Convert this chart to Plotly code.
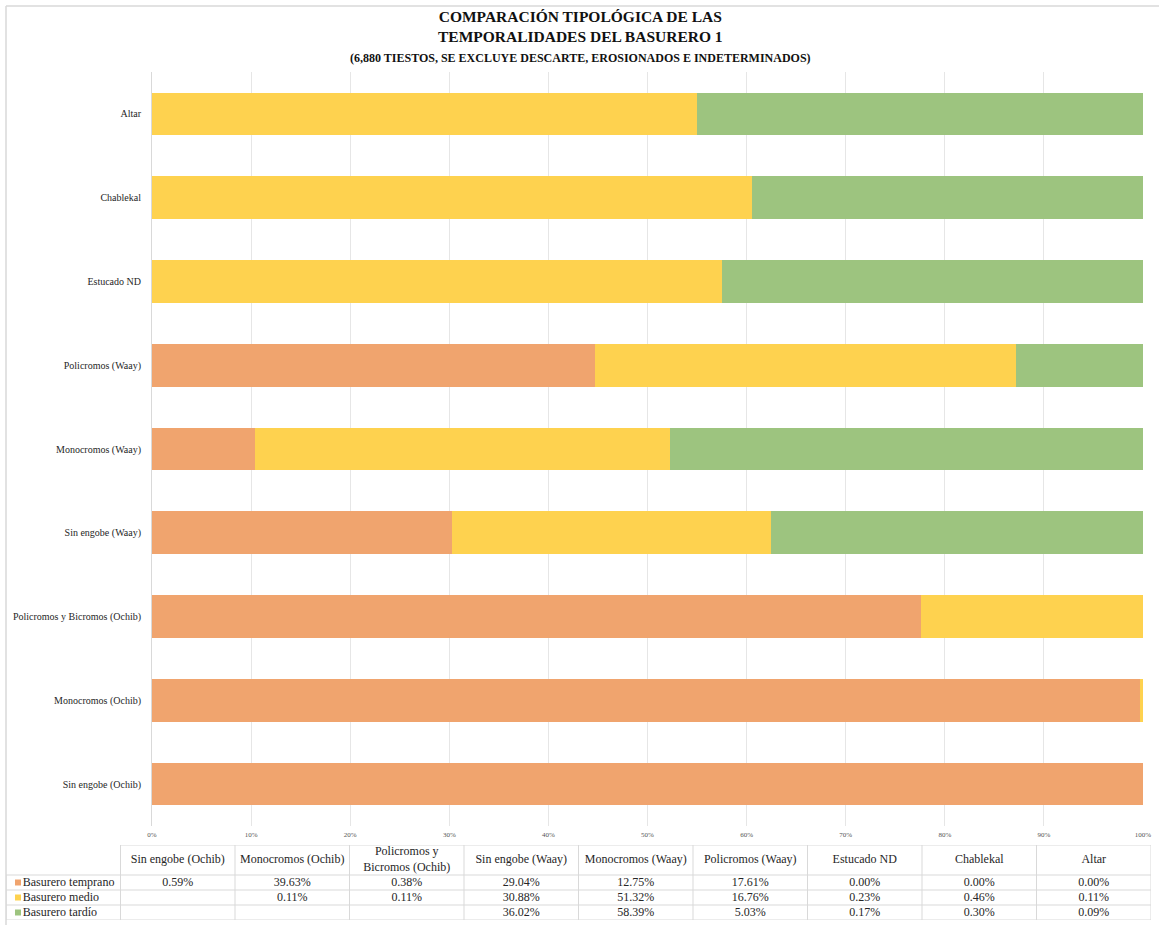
import plotly.graph_objects as go

categories = [
    "Sin engobe (Ochib)", "Monocromos (Ochib)", "Policromos y Bicromos (Ochib)",
    "Sin engobe (Waay)", "Monocromos (Waay)", "Policromos (Waay)",
    "Estucado ND", "Chablekal", "Altar",
]
header_labels = [
    "Sin engobe (Ochib)", "Monocromos (Ochib)", "Policromos y<br>Bicromos (Ochib)",
    "Sin engobe (Waay)", "Monocromos (Waay)", "Policromos (Waay)",
    "Estucado ND", "Chablekal", "Altar",
]
temprano = [0.59, 39.63, 0.38, 29.04, 12.75, 17.61, 0.00, 0.00, 0.00]
medio = [None, 0.11, 0.11, 30.88, 51.32, 16.76, 0.23, 0.46, 0.11]
tardio = [None, None, None, 36.02, 58.39, 5.03, 0.17, 0.30, 0.09]
series_names = ["Basurero temprano", "Basurero medio", "Basurero tardío"]
colors = ["#F0A46E", "#FED24F", "#9DC47F"]
x_ticks = [0, 10, 20, 30, 40, 50, 60, 70, 80, 90, 100]

W, H = 1159, 925
FONT = "Liberation Serif, Times New Roman, serif"
TXT = "#262626"
GRID = "#D9D9D9"


def px_x(p):
    return p / W


def px_y(p):
    return 1 - p / H


series = [temprano, medio, tardio]
fig = go.Figure()

# ---- stacked 100% bars ----
for name, vals, col in zip(series_names, series, colors):
    fig.add_trace(go.Bar(
        y=categories, x=[v if v is not None else 0 for v in vals],
        orientation="h", name=name, marker=dict(color=col, line=dict(width=0)),
        xaxis="x", yaxis="y", showlegend=False, hoverinfo="skip",
    ))

# ---- data table (drawn on its own axes) ----
n_cols = len(categories)
n_rows = len(series)
header_h = 2  # header is two row units tall
col_x = list(range(1, n_cols + 1))
row_y = [n_rows - 0.5 - i for i in range(n_rows)]
header_y = n_rows + header_h / 2
col_px = (1151 - 6) / (n_cols + 1)


def fmt(v):
    return "" if v is None else f"{v:.2f}%"


fig.add_trace(go.Scatter(
    x=col_x, y=[header_y] * n_cols, text=header_labels, mode="text",
    textposition="middle center", textfont=dict(family=FONT, size=12, color=TXT),
    xaxis="x2", yaxis="y2", showlegend=False, hoverinfo="skip", cliponaxis=False,
))
for i, (name, vals, col) in enumerate(zip(series_names, series, colors)):
    fig.add_trace(go.Scatter(
        x=col_x, y=[row_y[i]] * n_cols, text=[fmt(v) for v in vals], mode="text",
        textposition="middle center", textfont=dict(family=FONT, size=12, color=TXT),
        xaxis="x2", yaxis="y2", showlegend=False, hoverinfo="skip", cliponaxis=False,
    ))
    fig.add_trace(go.Scatter(
        x=[-0.5 + 12 / col_px], y=[row_y[i]], text=[name], mode="markers+text",
        marker=dict(symbol="square", size=6, color=col, line=dict(width=0)),
        textposition="middle right", textfont=dict(family=FONT, size=12, color=TXT),
        xaxis="x2", yaxis="y2", showlegend=False, hoverinfo="skip", cliponaxis=False,
    ))

shapes = []
top = n_rows + header_h
for r in range(n_rows + 1):
    shapes.append(dict(type="line", xref="x2", yref="y2", x0=-0.5, x1=n_cols + 0.5,
                       y0=r, y1=r, line=dict(color=GRID, width=1)))
shapes.append(dict(type="line", xref="x2", yref="y2", x0=0.5, x1=n_cols + 0.5,
                   y0=top, y1=top, line=dict(color=GRID, width=1)))
for c in range(n_cols + 1):
    shapes.append(dict(type="line", xref="x2", yref="y2", x0=c + 0.5, x1=c + 0.5,
                       y0=0, y1=top, line=dict(color=GRID, width=1)))
shapes.append(dict(type="line", xref="x2", yref="y2", x0=-0.5, x1=-0.5,
                   y0=0, y1=n_rows, line=dict(color=GRID, width=1)))

# chart-area border (top and left edges visible in the reference)
shapes.append(dict(type="line", xref="paper", yref="paper", x0=px_x(6), x1=1,
                   y0=px_y(6), y1=px_y(6), line=dict(color=GRID, width=1.5)))
shapes.append(dict(type="line", xref="paper", yref="paper", x0=px_x(6), x1=px_x(6),
                   y0=px_y(6), y1=0, line=dict(color=GRID, width=1.5)))

fig.update_layout(
    template="none",
    width=W, height=H, autosize=False,
    margin=dict(l=0, r=0, t=0, b=0, pad=0, autoexpand=False),
    paper_bgcolor="white", plot_bgcolor="white",
    barmode="stack", barnorm="percent", bargap=0.49,
    font=dict(family=FONT, color=TXT),
    hovermode=False,
    xaxis=dict(
        domain=[px_x(152), px_x(1143)], range=[0, 100], anchor="y",
        tickvals=x_ticks, ticktext=[f"{t}%" for t in x_ticks],
        tickfont=dict(family=FONT, size=7, color="#555555"),
        showgrid=True, gridcolor="#E6E6E6", gridwidth=1,
        zeroline=False, showline=False, ticks="", fixedrange=True,
        ticklabelstandoff=3, automargin=False,
    ),
    yaxis=dict(
        domain=[px_y(826), px_y(72)], anchor="x",
        type="category",
        tickfont=dict(family=FONT, size=10, color=TXT),
        showline=True, linecolor=GRID, linewidth=1,
        showgrid=False, zeroline=False, ticks="", ticklabelstandoff=8,
        fixedrange=True, automargin=False,
    ),
    xaxis2=dict(
        domain=[px_x(6), px_x(1151)], range=[-0.5, n_cols + 0.5], anchor="y2",
        visible=False, fixedrange=True, automargin=False,
    ),
    yaxis2=dict(
        domain=[px_y(920), px_y(845)], range=[0, top], anchor="x2",
        visible=False, fixedrange=True, automargin=False,
    ),
    shapes=shapes,
    annotations=[dict(
        text=("<b>COMPARACIÓN TIPOLÓGICA DE LAS<br>TEMPORALIDADES DEL BASURERO 1</b><br>"
              "<span style='font-size:12px'><b>(6,880 TIESTOS, SE EXCLUYE DESCARTE, "
              "EROSIONADOS E INDETERMINADOS)</b></span>"),
        xref="paper", yref="paper", x=px_x(580), y=px_y(36),
        xanchor="center", yanchor="middle", showarrow=False, align="center",
        font=dict(family=FONT, size=15.5, color="#111111"),
    )],
)

fig.write_html(
    "out.html",
    config={"displayModeBar": False, "responsive": False},
    post_script="document.body.style.margin='0px';",
)
